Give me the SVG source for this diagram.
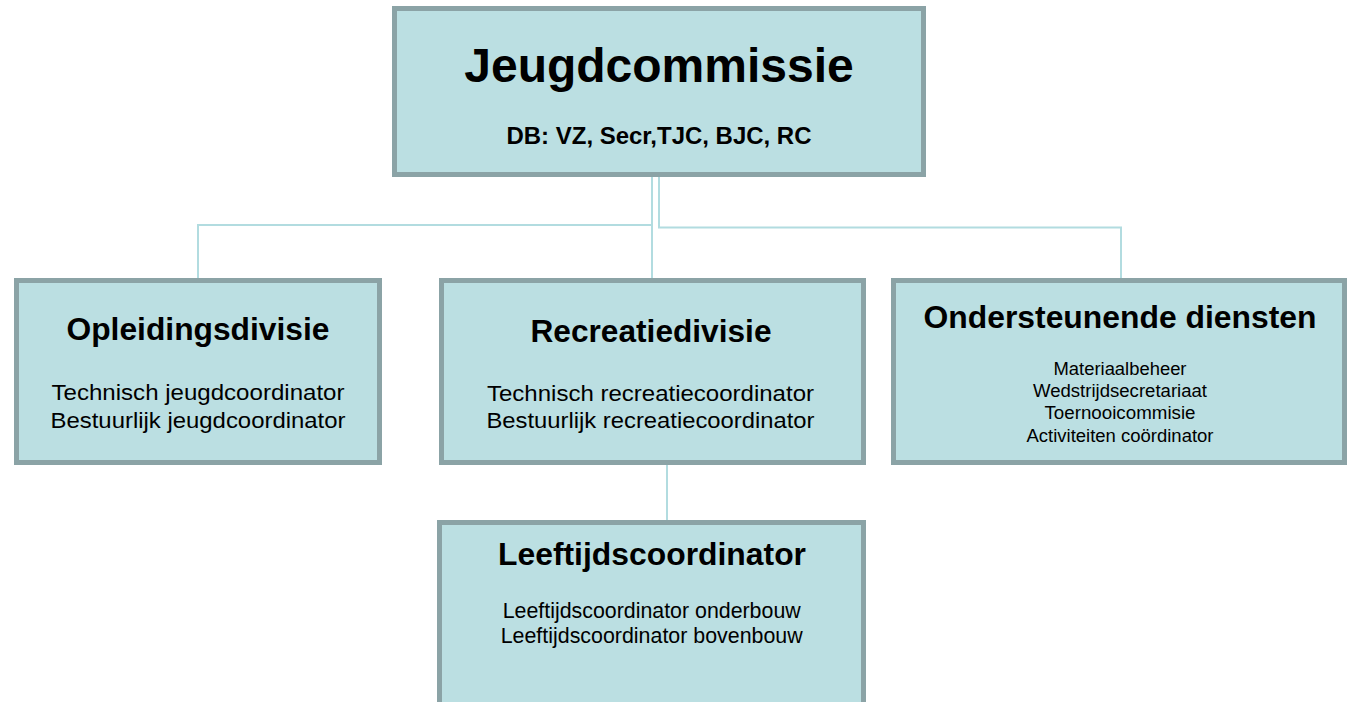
<svg xmlns="http://www.w3.org/2000/svg" width="1349" height="702" viewBox="0 0 1349 702">
<style>
.box{fill:#bbdfe2;stroke:#8ba3a6;stroke-width:5}
.con{fill:none;stroke:#b2dce0;stroke-width:2}
text{font-family:"Liberation Sans",Arial,Helvetica,sans-serif;fill:#000;text-anchor:middle}
.t0{font-size:48px;font-weight:bold}
.st{font-size:23px;font-weight:bold}
.t1{font-size:31px;font-weight:bold}
.b1{font-size:22.5px}
.b2{font-size:17.5px}
</style>
<rect width="1349" height="702" fill="#ffffff"/>
<g id="connectors">
<path class="con" d="M652 177 V278"/>
<path class="con" d="M652 225 H198 V278"/>
<path class="con" d="M659 177 V227.5 H1121 V278"/>
<path class="con" d="M667 465 V520"/>
</g>
<g id="jeugdcommissie">
<rect class="box" x="394.5" y="8.5" width="529" height="166"/>
<text class="t0" x="659" y="82">Jeugdcommissie</text>
<text class="st" x="659" y="144" textLength="305" lengthAdjust="spacingAndGlyphs">DB: VZ, Secr,TJC, BJC, RC</text>
</g>
<g id="opleidingsdivisie">
<rect class="box" x="16.5" y="280.5" width="363" height="182"/>
<text class="t1" x="198" y="340" textLength="263" lengthAdjust="spacingAndGlyphs">Opleidingsdivisie</text>
<text class="b1" x="198" y="400" textLength="293" lengthAdjust="spacingAndGlyphs">Technisch jeugdcoordinator</text>
<text class="b1" x="198" y="427.7" textLength="295" lengthAdjust="spacingAndGlyphs">Bestuurlijk jeugdcoordinator</text>
</g>
<g id="recreatiedivisie">
<rect class="box" x="441.5" y="280.5" width="422" height="182"/>
<text class="t1" x="651" y="341.7" textLength="241" lengthAdjust="spacingAndGlyphs">Recreatiedivisie</text>
<text class="b1" x="650.5" y="400.7" textLength="327" lengthAdjust="spacingAndGlyphs">Technisch recreatiecoordinator</text>
<text class="b1" x="650.5" y="428.3" textLength="328" lengthAdjust="spacingAndGlyphs">Bestuurlijk recreatiecoordinator</text>
</g>
<g id="ondersteunende-diensten">
<rect class="box" x="893.5" y="280.5" width="451" height="182"/>
<text class="t1" x="1120" y="328.3" textLength="393" lengthAdjust="spacingAndGlyphs">Ondersteunende diensten</text>
<text class="b2" x="1120" y="375" textLength="133" lengthAdjust="spacingAndGlyphs">Materiaalbeheer</text>
<text class="b2" x="1120" y="396.7" textLength="174" lengthAdjust="spacingAndGlyphs">Wedstrijdsecretariaat</text>
<text class="b2" x="1120" y="419.3" textLength="151" lengthAdjust="spacingAndGlyphs">Toernooicommisie</text>
<text class="b2" x="1120" y="441.7" textLength="187" lengthAdjust="spacingAndGlyphs">Activiteiten coördinator</text>
</g>
<g id="leeftijdscoordinator">
<rect class="box" x="439.5" y="522.5" width="424" height="182"/>
<text class="t1" x="652" y="565" textLength="308" lengthAdjust="spacingAndGlyphs">Leeftijdscoordinator</text>
<text class="b1" x="651.7" y="617.7" textLength="298" lengthAdjust="spacingAndGlyphs">Leeftijdscoordinator onderbouw</text>
<text class="b1" x="651.7" y="643.3" textLength="302" lengthAdjust="spacingAndGlyphs">Leeftijdscoordinator bovenbouw</text>
</g>
</svg>
